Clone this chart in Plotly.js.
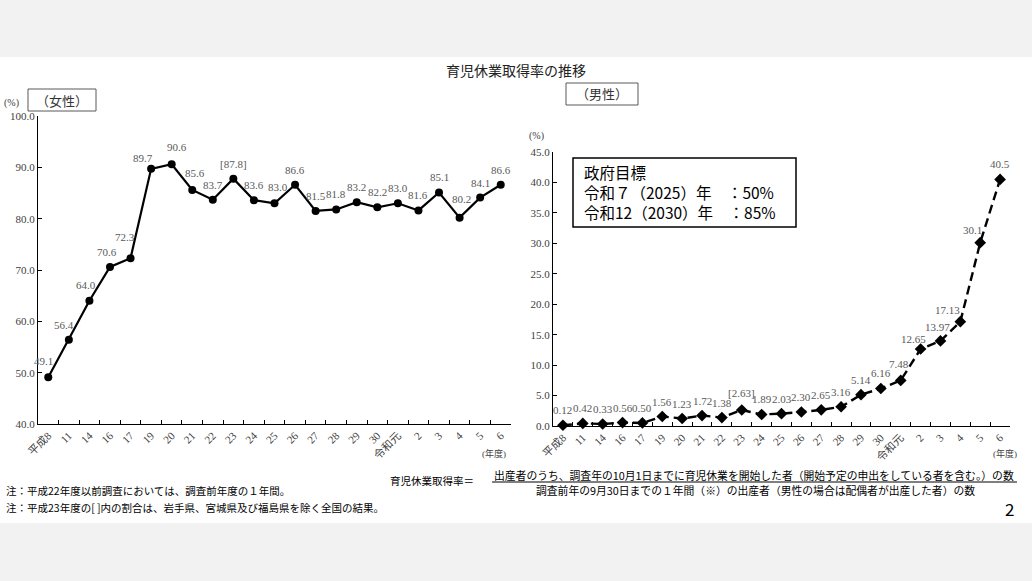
<!DOCTYPE html>
<html>
<head>
<meta charset="utf-8">
<script src="https://cdn.plot.ly/plotly-3.0.1.min.js"></script>
<style>
  html, body { margin: 0; padding: 0; background: #f2f2f2; }
  #chart { width: 1032px; height: 581px; }
</style>
</head>
<body>
<div id="chart"></div>
<script>
// fiscal years (x categories), shared by both panels
const years = ['平成8', '11', '14', '16', '17', '19', '20', '21', '22', '23', '24', '25', '26',
               '27', '28', '29', '30', '令和元', '2', '3', '4', '5', '6'];

// take-up rate, women (%)
const female = [49.1, 56.4, 64.0, 70.6, 72.3, 89.7, 90.6, 85.6, 83.7, 87.8, 83.6, 83.0, 86.6,
                81.5, 81.8, 83.2, 82.2, 83.0, 81.6, 85.1, 80.2, 84.1, 86.6];

// take-up rate, men (%)
const male = [0.12, 0.42, 0.33, 0.56, 0.50, 1.56, 1.23, 1.72, 1.38, 2.63, 1.89, 2.03, 2.30,
              2.65, 3.16, 5.14, 6.16, 7.48, 12.65, 13.97, 17.13, 30.1, 40.5];

// H23 excludes Iwate, Miyagi, Fukushima -> shown in brackets
const bracketIdx = 9;

const W = 1032, H = 581;
const px = x => x / W;
const py = y => 1 - y / H;

const serif = 'Liberation Serif, Noto Sans CJK JP, serif';
const sans = 'Noto Sans CJK JP, sans-serif';
const labelGray = '#595959';

const femaleText = female.map((v, i) => i === bracketIdx ? '[' + v.toFixed(1) + ']' : v.toFixed(1));
const maleText = male.map((v, i) => {
  const s = v >= 30 ? v.toFixed(1) : v.toFixed(2);
  return i === bracketIdx ? '[' + s + ']' : s;
});

// small nudges for a few labels so they sit like the original
const femaleNudge = { 0: [-5, 16], 1: [-5, 15], 2: [-3, 16], 3: [-3, 15], 4: [-6, 21], 5: [-8, 11], 6: [5, 17], 7: [3, 17], 11: [3, 16], 20: [2, 19] };
const maleNudge = { 9: [0, 17], 17: [-2, 16], 18: [-7, 10], 19: [-3, 14], 20: [-13, 12], 21: [-8, 13] };

function labelAnns(vals, texts, xa, ya, nudge) {
  // category axis: x given as the category's index
  return vals.map((v, i) => {
    const n = nudge[i] || [0, 15];
    return {
      x: i, y: v, xref: xa, yref: ya, text: texts[i], showarrow: false,
      xanchor: 'center', yanchor: 'middle', xshift: n[0], yshift: n[1],
      font: { family: serif, size: 11, color: labelGray }
    };
  });
}

const data = [
  {
    x: years, y: female, type: 'scatter', mode: 'lines+markers',
    line: { color: '#000', width: 2.2 },
    marker: { symbol: 'circle', size: 8, color: '#000' },
    xaxis: 'x', yaxis: 'y', cliponaxis: false
  },
  {
    x: years, y: male, type: 'scatter', mode: 'lines+markers',
    line: { color: '#000', width: 2.4, dash: '9px,5px' },
    marker: { symbol: 'diamond', size: 9, color: '#000' },
    xaxis: 'x2', yaxis: 'y2', cliponaxis: false
  }
];

const xCommon = {
  type: 'category', range: [-0.5, years.length - 0.5],
  showline: true, linecolor: '#000', linewidth: 1,
  showgrid: false, zeroline: false,
  ticks: 'inside', ticklen: 4, tickcolor: '#000', tickson: 'boundaries',
  tickangle: -45,
  tickfont: { family: serif, size: 11, color: '#404040' },
  fixedrange: true
};
const yCommon = {
  showline: true, linecolor: '#000', linewidth: 1,
  showgrid: false, zeroline: false,
  ticks: 'inside', ticklen: 4, tickcolor: '#000',
  tickformat: '.1f',
  tickfont: { family: serif, size: 11, color: '#404040' },
  fixedrange: true
};

const textAnns = [
  { text: '育児休業取得率の推移', x: px(516), y: py(70), xanchor: 'center', font: { family: sans, size: 14, color: '#222' } },
  { text: '(%)', x: px(2), y: py(103), xanchor: 'left', font: { family: serif, size: 10, color: '#404040' } },
  { text: '（女性）', x: px(62), y: py(100), xanchor: 'center', font: { family: sans, size: 13, color: '#333' } },
  { text: '（男性）', x: px(602), y: py(94), xanchor: 'center', font: { family: sans, size: 13, color: '#333' } },
  { text: '(%)', x: px(527), y: py(136), xanchor: 'left', font: { family: serif, size: 10, color: '#404040' } },
  { text: '政府目標<br>令和７（2025）年　：50%<br>令和12（2030）年　：85%', x: px(582), y: py(192),
    xanchor: 'left', align: 'left', font: { family: sans, size: 15.5, color: '#000' } },
  { text: '(年度)', x: px(494), y: py(453), xanchor: 'center', font: { family: serif, size: 9, color: '#404040' } },
  { text: '(年度)', x: px(1005), y: py(453), xanchor: 'center', font: { family: serif, size: 9, color: '#404040' } },
  { text: '育児休業取得率＝', x: px(432), y: py(480), xanchor: 'center', font: { family: sans, size: 10.5, color: '#000' } },
  { text: '出産者のうち、調査年の10月1日までに育児休業を開始した者（開始予定の申出をしている者を含む。）の数',
    x: px(754), y: py(475), xanchor: 'center', font: { family: sans, size: 10.8, color: '#000' } },
  { text: '調査前年の9月30日までの１年間（※）の出産者（男性の場合は配偶者が出産した者）の数',
    x: px(755), y: py(490), xanchor: 'center', font: { family: sans, size: 10.8, color: '#000' } },
  { text: '注：平成22年度以前調査においては、調査前年度の１年間。', x: px(4), y: py(490), xanchor: 'left', font: { family: sans, size: 10.5, color: '#000' } },
  { text: '注：平成23年度の[ ]内の割合は、岩手県、宮城県及び福島県を除く全国の結果。', x: px(4), y: py(507), xanchor: 'left', font: { family: sans, size: 10.5, color: '#000' } },
  { text: '2', x: px(1009), y: py(508), xanchor: 'center', font: { family: sans, size: 17, color: '#000' } }
].map(a => Object.assign({ xref: 'paper', yref: 'paper', yanchor: 'middle', showarrow: false }, a));

const layout = {
  width: W, height: H,
  paper_bgcolor: '#f2f2f2',
  plot_bgcolor: 'rgba(0,0,0,0)',
  margin: { l: 0, r: 0, t: 0, b: 0 },
  showlegend: false,
  xaxis: Object.assign({}, xCommon, { domain: [px(38), px(511)], anchor: 'y' }),
  yaxis: Object.assign({}, yCommon, { domain: [py(424), py(116)], range: [40, 100], dtick: 10, anchor: 'x' }),
  xaxis2: Object.assign({}, xCommon, { domain: [px(553), px(1010)], anchor: 'y2' }),
  yaxis2: Object.assign({}, yCommon, { domain: [py(426), py(152)], range: [0, 45], dtick: 5, anchor: 'x2' }),
  shapes: [
    // white slide area
    { type: 'rect', xref: 'paper', yref: 'paper', x0: 0, x1: 1, y0: py(523), y1: py(57),
      fillcolor: '#fff', line: { width: 0 }, layer: 'below' },
    // (女性) box
    { type: 'rect', xref: 'paper', yref: 'paper', x0: px(28), x1: px(96), y0: py(111), y1: py(89),
      line: { color: '#595959', width: 1 } },
    // (男性) box
    { type: 'rect', xref: 'paper', yref: 'paper', x0: px(566), x1: px(638), y0: py(105), y1: py(83),
      line: { color: '#595959', width: 1 } },
    // government target box
    { type: 'rect', xref: 'paper', yref: 'paper', x0: px(573), x1: px(796), y0: py(227), y1: py(158),
      line: { color: '#000', width: 1.5 } },
    // fraction bar
    { type: 'line', xref: 'paper', yref: 'paper', x0: px(492), x1: px(1017), y0: py(482), y1: py(482),
      line: { color: '#000', width: 1 } }
  ],
  annotations: labelAnns(female, femaleText, 'x', 'y', femaleNudge)
    .concat(labelAnns(male, maleText, 'x2', 'y2', maleNudge))
    .concat(textAnns)
};

Plotly.newPlot('chart', data, layout, { displayModeBar: false, staticPlot: true });
</script>
</body>
</html>
